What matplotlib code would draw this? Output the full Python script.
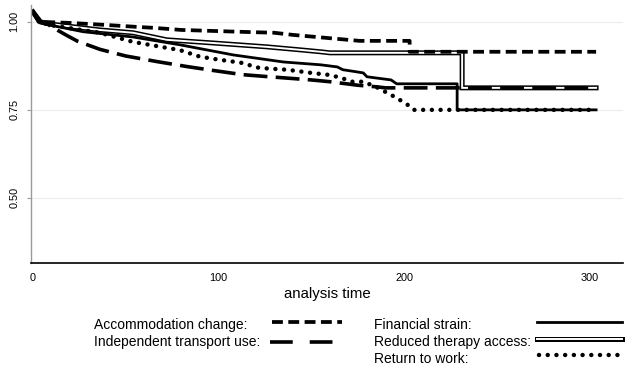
import matplotlib
matplotlib.use("Agg")
import matplotlib.pyplot as plt
from matplotlib.lines import Line2D

plt.rcParams['font.family'] = ['Liberation Sans', 'DejaVu Sans']

# Kaplan-Meier style curves (time, survival)
accom_t = [0, 2, 4, 20, 40, 55, 65, 80, 110, 130, 140, 176, 203, 203, 303.5]
accom_s = [1.028, 1.01, 1.0, 0.997, 0.991, 0.986, 0.983, 0.977, 0.972, 0.969, 0.963, 0.946, 0.946, 0.915, 0.915]

trans_t = [0, 3, 8, 12, 18, 24, 36, 50, 67, 83, 97, 113, 125, 135, 150, 160, 175, 186, 190, 303.5]
trans_s = [1.028, 1.0, 0.993, 0.98, 0.962, 0.945, 0.922, 0.903, 0.887, 0.873, 0.862, 0.850, 0.845, 0.841, 0.835, 0.830, 0.82, 0.815, 0.8125, 0.8125]

fin_t = [0, 4, 9, 27, 54, 79, 108, 135, 155, 164, 167, 172, 178, 180, 193, 196, 228.6, 228.6, 303.5]
fin_s = [1.028, 1.0, 0.991, 0.972, 0.957, 0.935, 0.906, 0.886, 0.878, 0.872, 0.864, 0.860, 0.855, 0.844, 0.835, 0.824, 0.824, 0.75, 0.75]

ther_t = [0, 4, 9, 36, 54, 72, 97, 126, 145, 155, 160, 231.3, 231.3, 303.5]
ther_s = [1.028, 1.0, 0.994, 0.977, 0.969, 0.949, 0.940, 0.929, 0.920, 0.915, 0.912, 0.912, 0.8125, 0.8125]

work_t = [0, 4, 9, 36, 54, 69, 79, 90, 101, 112, 122, 137, 150, 160, 166, 172, 178, 185, 191, 196, 202, 205, 303.5]
work_s = [1.028, 1.0, 0.991, 0.969, 0.943, 0.929, 0.920, 0.901, 0.892, 0.884, 0.869, 0.864, 0.855, 0.849, 0.841, 0.830, 0.830, 0.815, 0.798, 0.784, 0.764, 0.75, 0.75]

yticks = [0.50, 0.75, 1.00]
xticks = [0, 100, 200, 300]

short_dash = (0, (2.9, 1.45))
long_dash = (0, (6.6, 2.3))
dots = (0, (0.01, 1.95))

fig = plt.figure(figsize=(6.29, 3.71), dpi=100)
ax = fig.add_axes([31 / 629, 108 / 371, 592 / 629, 258.4 / 371])

for y in yticks:
    ax.axhline(y, color='#ececec', lw=0.8, zorder=0)

ax.plot(ther_t, ther_s, color='black', lw=3.6, solid_joinstyle='miter')
ax.plot(ther_t, ther_s, color='white', lw=1.4, solid_joinstyle='miter')
ax.plot(fin_t, fin_s, color='black', lw=2.0)
ax.plot(accom_t, accom_s, color='black', lw=2.7, linestyle=short_dash, dash_capstyle='butt')
ax.plot(trans_t, trans_s, color='black', lw=2.6, linestyle=long_dash, dash_capstyle='butt')
ax.plot(work_t, work_s, color='black', lw=3.2, linestyle=dots, dash_capstyle='round')

ax.set_xlim(-1.08, 318)
ax.set_ylim(0.315, 1.049)
ax.set_yticks(yticks)
ax.set_yticklabels(['%.2f' % v for v in yticks], rotation=90, va='center', fontsize=7.8)
ax.set_xticks(xticks)
ax.set_xticklabels([str(v) for v in xticks], fontsize=7.8)
ax.tick_params(axis='y', length=3, color='#999999', pad=5.5)
ax.tick_params(axis='x', length=0, pad=7)
ax.set_xlabel('analysis time', fontsize=10.8, labelpad=3)

for s in ['top', 'right']:
    ax.spines[s].set_visible(False)
ax.spines['left'].set_color('#9a9a9a')
ax.spines['left'].set_linewidth(1.0)
ax.spines['bottom'].set_linewidth(1.2)


def fx(px):
    return px / 629


def fy(py):
    return 1 - py / 371


# legend drawn by hand, two columns
fig.text(fx(94), fy(325), 'Accommodation change:', fontsize=10, va='center')
fig.text(fx(94), fy(342), 'Independent transport use:', fontsize=10, va='center')
fig.text(fx(374), fy(325), 'Financial strain:', fontsize=10, va='center')
fig.text(fx(374), fy(342), 'Reduced therapy access:', fontsize=10, va='center')
fig.text(fx(374), fy(359), 'Return to work:', fontsize=10, va='center')

fig.add_artist(Line2D([fx(272), fx(342)], [fy(322), fy(322)], color='black', lw=2.7,
                      linestyle=short_dash, dash_capstyle='butt', transform=fig.transFigure))
fig.add_artist(Line2D([fx(270), fx(334)], [fy(342), fy(342)], color='black', lw=2.6,
                      linestyle=(0, (6.3, 4.7)), dash_capstyle='butt', transform=fig.transFigure))
fig.add_artist(Line2D([fx(537), fx(622)], [fy(322), fy(322)], color='black', lw=2.0,
                      transform=fig.transFigure))
fig.add_artist(Line2D([fx(537), fx(622)], [fy(339), fy(339)], color='black', lw=3.6,
                      transform=fig.transFigure))
fig.add_artist(Line2D([fx(537), fx(622)], [fy(339), fy(339)], color='white', lw=1.4,
                      transform=fig.transFigure))
fig.add_artist(Line2D([fx(539), fx(621)], [fy(355), fy(355)], color='black', lw=3.2,
                      linestyle=dots, dash_capstyle='round', transform=fig.transFigure))

fig.savefig('out.png', dpi=100)
